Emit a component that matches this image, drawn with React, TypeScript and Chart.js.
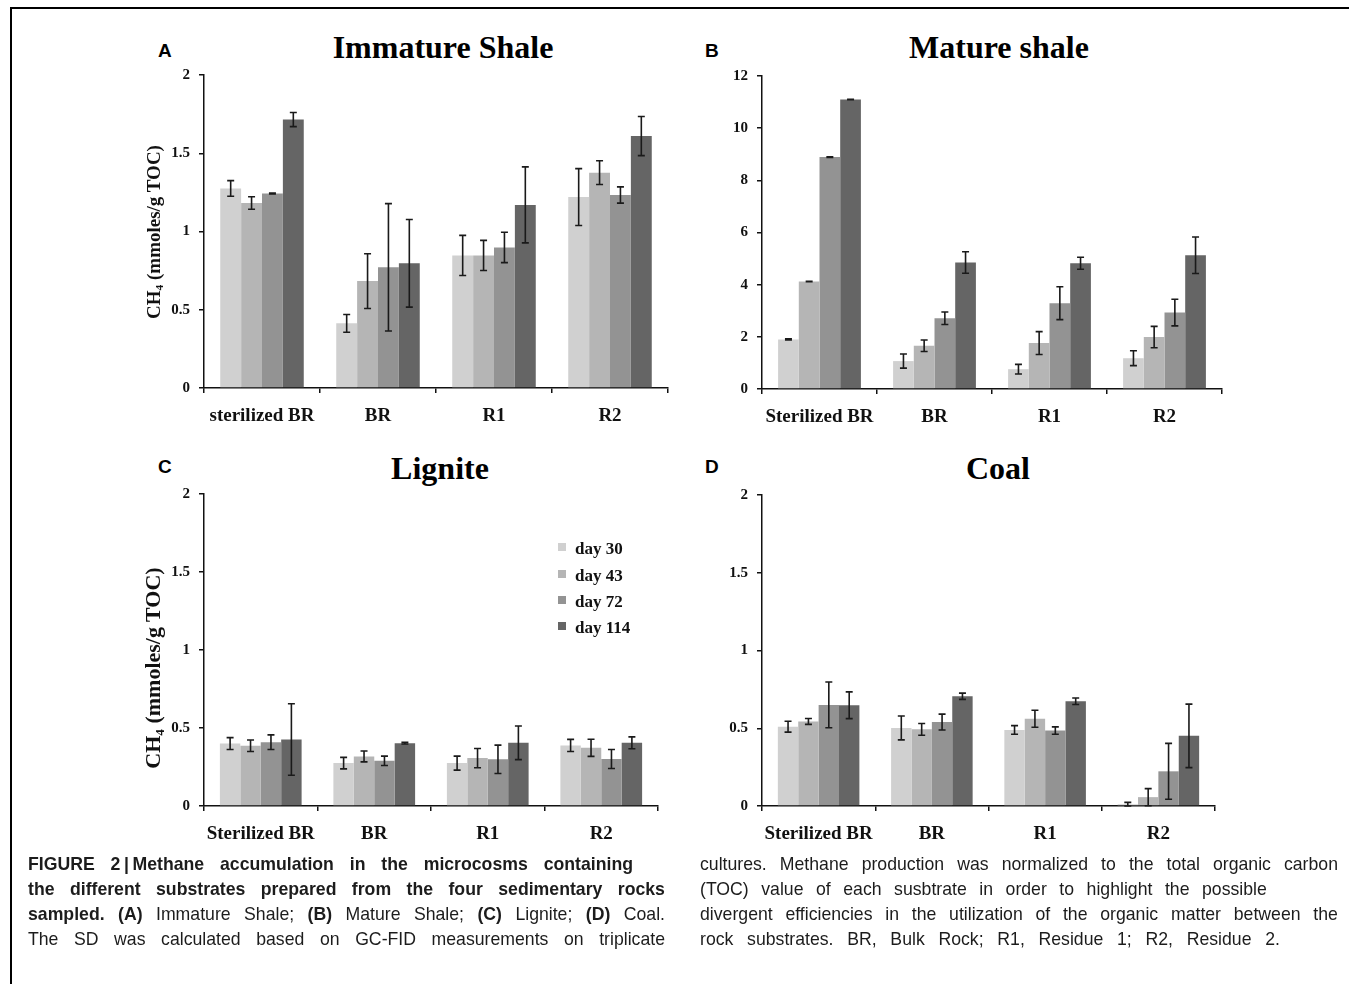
import React, { useEffect, useRef } from "react";
import { Chart, registerables } from "chart.js";

Chart.register(...registerables);

// ---------- categories & labels ----------
const categoriesImmature = ["sterilized BR", "BR", "R1", "R2"];
const categoriesOther = ["Sterilized BR", "BR", "R1", "R2"];
const dayLabels = ["day 30", "day 43", "day 72", "day 114"];

// ---------- (A) Immature Shale ----------
const immatureDay30 = [1.275, 0.413, 0.847, 1.22];
const immatureDay43 = [1.182, 0.683, 0.847, 1.376];
const immatureDay72 = [1.243, 0.771, 0.898, 1.233];
const immatureDay114 = [1.715, 0.797, 1.17, 1.61];
const immatureErr30 = [0.05, 0.057, 0.128, 0.182];
const immatureErr43 = [0.04, 0.175, 0.096, 0.076];
const immatureErr72 = [0.003, 0.407, 0.097, 0.052];
const immatureErr114 = [0.045, 0.28, 0.243, 0.125];

// ---------- (B) Mature shale ----------
const matureDay30 = [1.9, 1.07, 0.76, 1.18];
const matureDay43 = [4.12, 1.66, 1.76, 1.99];
const matureDay72 = [8.89, 2.71, 3.29, 2.93];
const matureDay114 = [11.1, 4.85, 4.82, 5.13];
const matureErr30 = [0.02, 0.27, 0.185, 0.285];
const matureErr43 = [0.01, 0.22, 0.44, 0.41];
const matureErr72 = [0.01, 0.24, 0.63, 0.51];
const matureErr114 = [0.01, 0.41, 0.23, 0.7];

// ---------- (C) Lignite ----------
const ligniteDay30 = [0.4, 0.275, 0.275, 0.388];
const ligniteDay43 = [0.386, 0.318, 0.307, 0.373];
const ligniteDay72 = [0.409, 0.29, 0.299, 0.301];
const ligniteDay114 = [0.426, 0.403, 0.405, 0.405];
const ligniteErr30 = [0.038, 0.037, 0.045, 0.039];
const ligniteErr43 = [0.037, 0.035, 0.062, 0.055];
const ligniteErr72 = [0.047, 0.03, 0.091, 0.061];
const ligniteErr114 = [0.229, 0.006, 0.108, 0.038];

// ---------- (D) Coal ----------
const coalDay30 = [0.51, 0.502, 0.489, 0.011];
const coalDay43 = [0.544, 0.493, 0.561, 0.057];
const coalDay72 = [0.65, 0.54, 0.485, 0.223];
const coalDay114 = [0.648, 0.706, 0.674, 0.451];
const coalErr30 = [0.035, 0.077, 0.028, 0.012];
const coalErr43 = [0.019, 0.038, 0.055, 0.055];
const coalErr72 = [0.147, 0.051, 0.024, 0.18];
const coalErr114 = [0.086, 0.02, 0.021, 0.204];

// ---------- y-axis ticks ----------
const yTicksSmall = { max: 2, step: 0.5 };
const yTicksMature = { max: 12, step: 2 };

// ---------- caption ----------
const captionLeft = [
  "FIGURE 2\u2009|\u2009Methane accumulation in the microcosms containing",
  "the different substrates prepared from the four sedimentary rocks",
  "*sampled. *(A) Immature Shale; *(B) Mature Shale; *(C) Lignite; *(D) Coal.",
  "The SD was calculated based on GC-FID measurements on triplicate",
];
const captionRight = [
  "cultures. Methane production was normalized to the total organic carbon",
  "(TOC) value of each susbtrate in order to highlight the possible",
  "divergent efficiencies in the utilization of the organic matter between the",
  "rock substrates. BR, Bulk Rock; R1, Residue 1; R2, Residue 2.",
];

// ---------- styles ----------
const BAR_COLORS = ["#d0d0d0", "#b5b5b5", "#939393", "#656565"];
const SERIF = '"Liberation Serif", "Times New Roman", serif';
const SANS = '"Liberation Sans", Arial, sans-serif';
const INK = "#111111";
const CAPTION_SCALE = 0.93;
const CAPTION_SIZE = 19;

const AXIS_W = 70;
const AXIS_H = 50;
const PAD_T = 16;
const PAD_R = 12;

const errorBarPlugin = {
  id: "errorBars",
  afterDatasetsDraw(chart: any) {
    const ctx = chart.ctx;
    const ys = chart.scales.y;
    ctx.save();
    ctx.strokeStyle = "#1a1a1a";
    ctx.lineWidth = 1.6;
    chart.data.datasets.forEach((ds: any, i: number) => {
      const meta = chart.getDatasetMeta(i);
      const errs = ds.errors || [];
      meta.data.forEach((bar: any, j: number) => {
        const v = ds.data[j];
        const e = errs[j];
        if (e == null) return;
        const x = bar.x;
        const yt = ys.getPixelForValue(v + e);
        const yb = ys.getPixelForValue(Math.max(v - e, 0));
        const cap = 3.5;
        ctx.beginPath();
        ctx.moveTo(x, yt);
        ctx.lineTo(x, yb);
        ctx.moveTo(x - cap, yt);
        ctx.lineTo(x + cap, yt);
        ctx.moveTo(x - cap, yb);
        ctx.lineTo(x + cap, yb);
        ctx.stroke();
      });
    });
    ctx.restore();
  },
};

type PanelProps = {
  left: number;
  top: number;
  right: number;
  bottom: number;
  categories: string[];
  series: number[][];
  errors: number[][];
  yMax: number;
  yStep: number;
};

function Panel(p: PanelProps) {
  const ref = useRef<HTMLCanvasElement | null>(null);
  const width = p.right - p.left + AXIS_W + PAD_R;
  const height = p.bottom - p.top + PAD_T + AXIS_H;
  useEffect(() => {
    if (!ref.current) return;
    const chart = new Chart(ref.current, {
      type: "bar",
      data: {
        labels: p.categories,
        datasets: p.series.map((d, i) => ({
          label: dayLabels[i],
          data: d,
          errors: p.errors[i],
          backgroundColor: BAR_COLORS[i],
          borderWidth: 0,
          categoryPercentage: 0.72,
          barPercentage: 1,
        })) as any,
      },
      options: {
        responsive: false,
        animation: false,
        devicePixelRatio: 1,
        layout: { padding: { top: PAD_T, right: PAD_R, left: 0, bottom: 0 } },
        plugins: {
          legend: { display: false },
          tooltip: { enabled: false },
          title: { display: false },
        },
        scales: {
          x: {
            offset: true,
            grid: {
              offset: true,
              drawOnChartArea: false,
              drawTicks: true,
              tickLength: 5,
              color: INK,
              lineWidth: 1.5,
            },
            border: { display: true, color: INK, width: 1.5 },
            ticks: {
              color: INK,
              font: { family: SERIF, size: 19, weight: "bold" },
              padding: 12,
              maxRotation: 0,
              autoSkip: false,
            },
            afterFit: (s: any) => {
              s.height = AXIS_H;
            },
          },
          y: {
            min: 0,
            max: p.yMax,
            ticks: {
              stepSize: p.yStep,
              color: INK,
              font: { family: SERIF, size: 15, weight: "bold" },
              padding: 9,
              callback: (v: any) => String(Number(v)),
            },
            grid: {
              drawOnChartArea: false,
              drawTicks: true,
              tickLength: 5,
              color: INK,
              lineWidth: 1.5,
            },
            border: { display: true, color: INK, width: 1.5 },
            afterFit: (s: any) => {
              s.width = AXIS_W;
            },
          },
        },
      } as any,
      plugins: [errorBarPlugin],
    });
    return () => chart.destroy();
  }, []);
  return (
    <canvas
      ref={ref}
      width={width}
      height={height}
      style={{
        position: "absolute",
        left: p.left - AXIS_W,
        top: p.top - PAD_T,
        width,
        height,
      }}
    />
  );
}

function Title({ x, y, text }: { x: number; y: number; text: string }) {
  return (
    <div
      style={{
        position: "absolute",
        left: x,
        top: y,
        transform: "translate(-50%, -50%)",
        font: `bold 32px ${SERIF}`,
        lineHeight: 1,
        whiteSpace: "nowrap",
        color: "#000",
      }}
    >
      {text}
    </div>
  );
}

function Letter({ x, y, text }: { x: number; y: number; text: string }) {
  return (
    <div
      style={{
        position: "absolute",
        left: x,
        top: y,
        transform: "translateY(-50%)",
        font: `bold 19px ${SANS}`,
        lineHeight: 1,
        color: "#000",
      }}
    >
      {text}
    </div>
  );
}

function YTitle({ x, y, size }: { x: number; y: number; size: number }) {
  return (
    <div
      style={{
        position: "absolute",
        left: x,
        top: y,
        transform: "translate(-50%, -50%) rotate(-90deg)",
        font: `bold ${size}px ${SERIF}`,
        lineHeight: 1,
        whiteSpace: "nowrap",
        color: INK,
      }}
    >
      CH
      <sub style={{ fontSize: "0.6em", verticalAlign: "-0.3em", lineHeight: 0 }}>4</sub>
      {" (mmoles/g TOC)"}
    </div>
  );
}

function CaptionLine({ left, right, cy, text, bold }: { left: number; right: number; cy: number; text: string; bold?: boolean }) {
  const words = text.split(" ");
  const w = right - left;
  return (
    <div
      style={{
        position: "absolute",
        left,
        width: w,
        top: cy - 12,
        height: 24,
      }}
    >
      <div
        style={{
          width: w / CAPTION_SCALE,
          height: 24,
          transform: `scaleX(${CAPTION_SCALE})`,
          transformOrigin: "left center",
          display: "flex",
          justifyContent: "space-between",
          alignItems: "center",
          whiteSpace: "nowrap",
          fontFamily: SANS,
          fontSize: CAPTION_SIZE,
          color: "#1c1c1c",
        }}
      >
        {words.map((word, i) => {
          const star = word.startsWith("*");
          const t = star ? word.slice(1) : word;
          return (
            <span key={i} style={{ fontWeight: bold || star ? 700 : 400 }}>
              {t + (i < words.length - 1 ? " " : "")}
            </span>
          );
        })}
      </div>
    </div>
  );
}

function Legend({ x, rows }: { x: number; rows: number[] }) {
  return (
    <>
      {dayLabels.map((lab, i) => (
        <div
          key={lab}
          style={{
            position: "absolute",
            left: x,
            top: rows[i] - 12,
            height: 24,
            display: "flex",
            alignItems: "center",
            whiteSpace: "nowrap",
          }}
        >
          <div style={{ width: 8, height: 8, background: BAR_COLORS[i], marginRight: 9 }} />
          <span style={{ font: `bold 17px ${SERIF}`, lineHeight: 1, marginTop: 3, color: INK }}>{lab}</span>
        </div>
      ))}
    </>
  );
}

export default function App() {
  const lineYs = [864, 889, 914, 939];
  const leftEnds = [633, 665, 665, 665];
  const rightEnds = [1338, 1267, 1338, 1280];
  return (
    <div
      style={{
        position: "absolute",
        left: 0,
        top: 0,
        width: 1349,
        height: 984,
        background: "#fff",
        overflow: "hidden",
      }}
    >
      <div
        style={{
          position: "absolute",
          left: 10,
          top: 7,
          width: 1400,
          height: 1100,
          borderTop: "2px solid #000",
          borderLeft: "2px solid #000",
        }}
      />

      <Letter x={158} y={50} text="A" />
      <Letter x={705} y={50} text="B" />
      <Letter x={158} y={466} text="C" />
      <Letter x={705} y={466} text="D" />

      <Title x={443} y={47} text="Immature Shale" />
      <Title x={999} y={47} text="Mature shale" />
      <Title x={440} y={468} text="Lignite" />
      <Title x={998} y={468} text="Coal" />

      <Panel
        left={204}
        top={73}
        right={668}
        bottom={388}
        categories={categoriesImmature}
        series={[immatureDay30, immatureDay43, immatureDay72, immatureDay114]}
        errors={[immatureErr30, immatureErr43, immatureErr72, immatureErr114]}
        yMax={yTicksSmall.max}
        yStep={yTicksSmall.step}
      />
      <Panel
        left={762}
        top={74}
        right={1222}
        bottom={389}
        categories={categoriesOther}
        series={[matureDay30, matureDay43, matureDay72, matureDay114]}
        errors={[matureErr30, matureErr43, matureErr72, matureErr114]}
        yMax={yTicksMature.max}
        yStep={yTicksMature.step}
      />
      <Panel
        left={204}
        top={492}
        right={658}
        bottom={806}
        categories={categoriesOther}
        series={[ligniteDay30, ligniteDay43, ligniteDay72, ligniteDay114]}
        errors={[ligniteErr30, ligniteErr43, ligniteErr72, ligniteErr114]}
        yMax={yTicksSmall.max}
        yStep={yTicksSmall.step}
      />
      <Panel
        left={762}
        top={493}
        right={1215}
        bottom={806}
        categories={categoriesOther}
        series={[coalDay30, coalDay43, coalDay72, coalDay114]}
        errors={[coalErr30, coalErr43, coalErr72, coalErr114]}
        yMax={yTicksSmall.max}
        yStep={yTicksSmall.step}
      />

      <YTitle x={153} y={232} size={19} />
      <YTitle x={153} y={668} size={22} />

      <Legend x={558} rows={[546.5, 573.5, 600, 626]} />

      {captionLeft.map((t, i) => (
        <CaptionLine key={"l" + i} left={28} right={leftEnds[i]} cy={lineYs[i]} text={t} bold={i < 2} />
      ))}
      {captionRight.map((t, i) => (
        <CaptionLine key={"r" + i} left={700} right={rightEnds[i]} cy={lineYs[i]} text={t} />
      ))}
    </div>
  );
}
